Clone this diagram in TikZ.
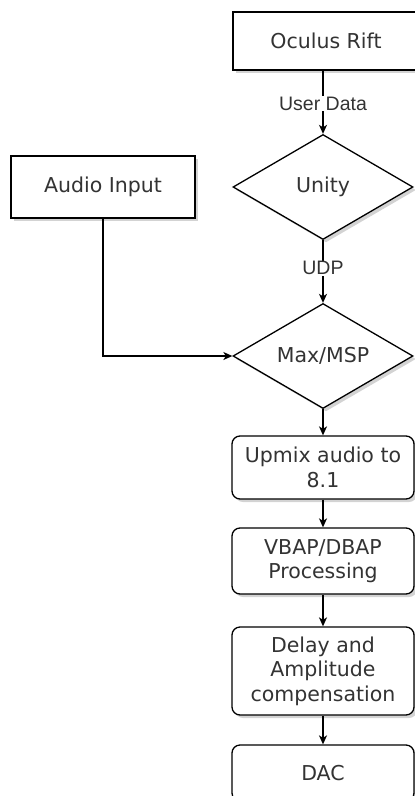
\documentclass[tikz,border=0pt]{standalone}
\usepackage{fontspec}
\setmainfont{DejaVu Sans}
\newfontfamily\lblfont{Liberation Sans}
\usetikzlibrary{shapes.geometric,arrows.meta,shadows}
\definecolor{txt}{HTML}{333333}
\begin{document}
\begin{tikzpicture}[x=1pt,y=-1pt,
  every node/.style={text=txt, font=\fontsize{20.5}{24.5}\selectfont, inner sep=0pt},
  sh/.style={drop shadow={shadow xshift=3pt, shadow yshift=-3pt, opacity=0.35, fill=gray}},
  sqbox/.style={draw=black, line width=1.3pt, fill=white, rectangle, sh, align=center},
  rbox/.style={draw=black, line width=1.3pt, fill=white, rectangle, rounded corners=8pt, sh, align=center, minimum width=182pt},
  dia/.style={draw=black, line width=1.3pt, fill=white, diamond, aspect=1.714, minimum width=180pt, minimum height=105pt, sh},
  conn/.style={line width=1.3pt, draw=black, -{Stealth[length=9pt,width=8pt,inset=2.5pt]}},
  lbl/.style={fill=white, font=\lblfont\fontsize{19.5}{22}\selectfont, inner sep=1pt}]
\useasboundingbox (0,0) rectangle (415,796);
\begin{scope}
\clip (0,0) rectangle (415,796);
\node[sqbox, minimum width=186pt, minimum height=58pt] (oculus) at (326,41) {Oculus Rift};
\node[dia] (unity) at (323,187) {Unity};
\node[sqbox, minimum width=184pt, minimum height=62pt] (audio) at (103,187) {Audio Input};
\node[dia] (max) at (323,356) {Max/MSP};
\node[rbox, minimum height=63pt] (upmix) at (323,467.5) {Upmix audio to\\8.1};
\node[rbox, minimum height=66pt] (vbap) at (323,561) {VBAP/DBAP\\Processing};
\node[rbox, minimum height=88pt] (delay) at (323,671) {Delay and\\Amplitude\\compensation};
\node[rbox, minimum height=56pt] (dac) at (323,773) {DAC};

\draw[conn] (oculus.south -| unity.north) -- node[lbl, pos=0.52] {User Data} (unity.north);
\draw[conn] (unity.south) -- node[lbl, pos=0.45] {UDP} (max.north);
\draw[conn] (audio.south) |- (max.west);
\draw[conn] (max.south) -- (upmix.north);
\draw[conn] (upmix.south) -- (vbap.north);
\draw[conn] (vbap.south) -- (delay.north);
\draw[conn] (delay.south) -- (dac.north);
\end{scope}
\end{tikzpicture}
\end{document}
